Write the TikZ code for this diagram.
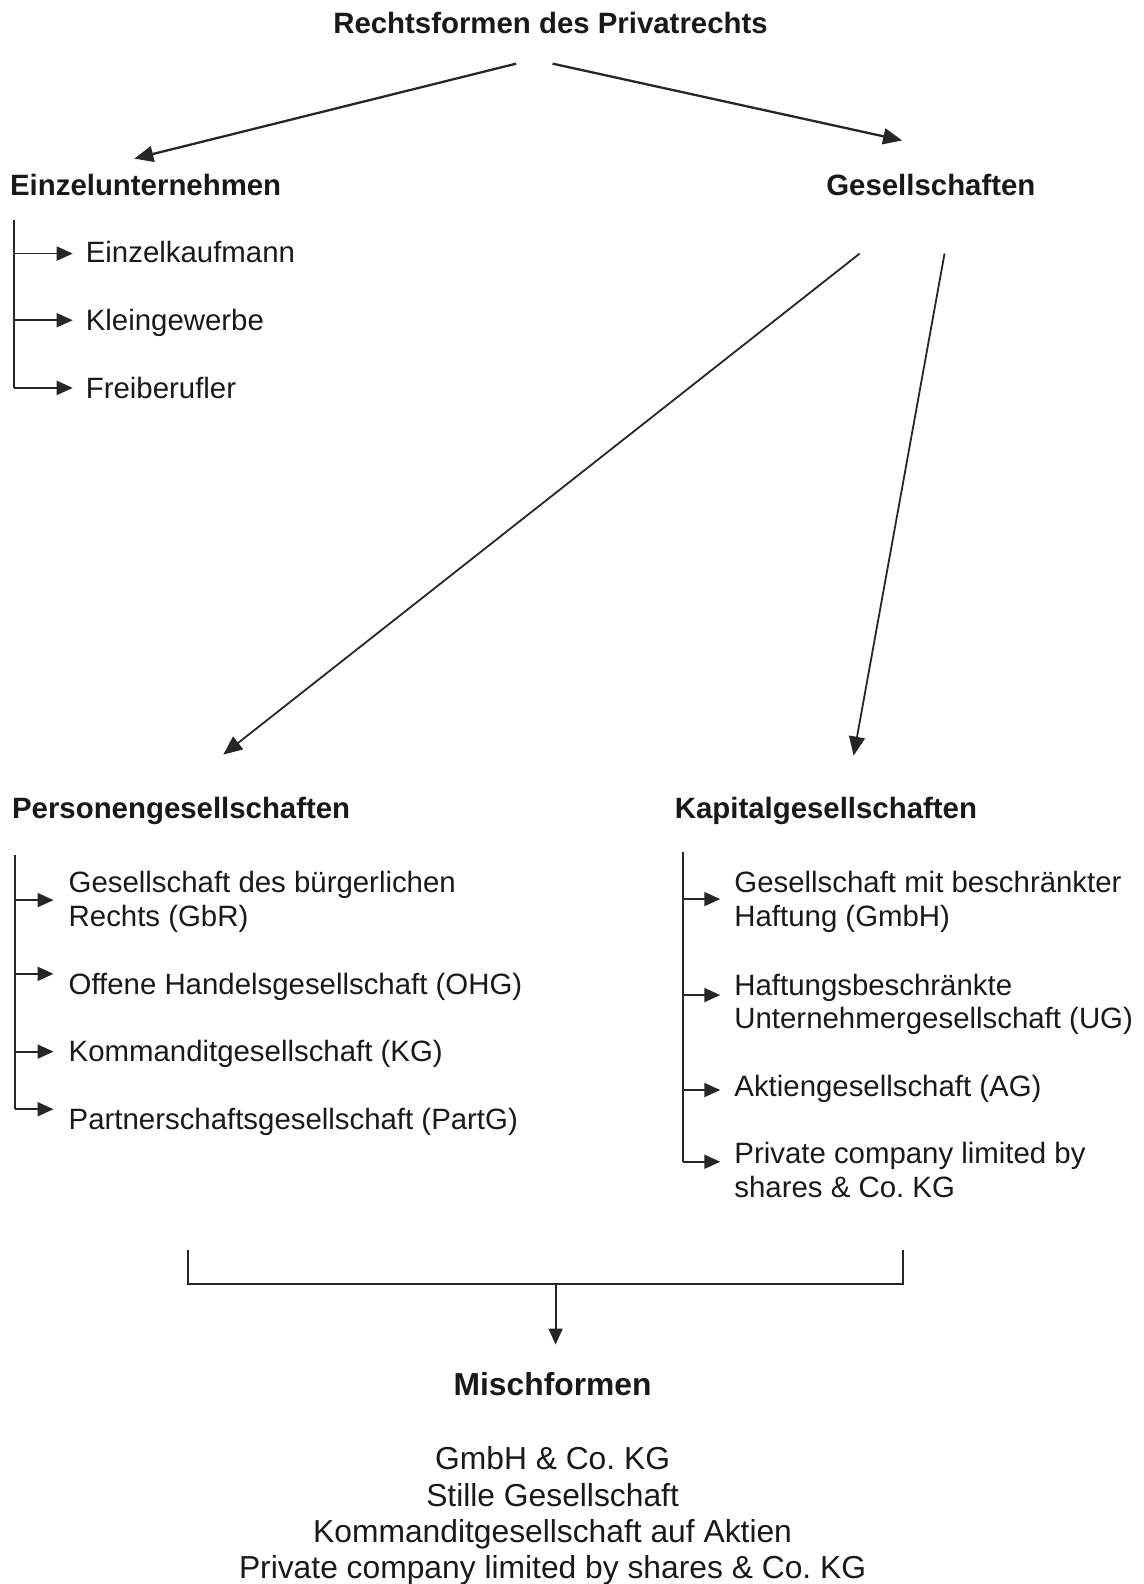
\documentclass[tikz,border=0pt]{standalone}
\usepackage{fontspec}
\setmainfont{Liberation Sans}
\usetikzlibrary{arrows.meta}
\begin{document}
\begin{tikzpicture}[x=1.0106pt,y=-1.0106pt,
  every node/.style={inner sep=0pt, outer sep=0pt, text=black!90},
  head/.style={font=\fontsize{29.4}{33.4}\selectfont\bfseries},
  item/.style={font=\fontsize{29.4}{33.4}\selectfont, align=left, anchor=base west},
  big/.style={draw=black!85, line width=2.3pt, -{Triangle[length=19pt,width=16pt]}},
  mid/.style={draw=black!85, line width=1.8pt, -{Triangle[length=19pt,width=16pt]}},
  br/.style={draw=black!85, line width=1.8pt},
  bra/.style={br, -{Triangle[length=16pt,width=14pt]}},
]
\useasboundingbox (0,0) rectangle (1132,1568);

% top level
\node[head, anchor=base] (root) at (545,33) {Rechtsformen des Privatrechts};
\node[head, anchor=base west] (ein) at (10,194) {Einzelunternehmen};
\node[head, anchor=base west] (ges) at (818,194) {Gesellschaften};
\coordinate (rL) at (511,63);
\coordinate (rR) at (547,63);
\coordinate (einT) at (133,157);
\coordinate (gesT) at (893,139);
\draw[big] (rL) -- (einT);
\draw[big] (rR) -- (gesT);

% Einzelunternehmen list
\node[item] (e1) at (85,260) {Einzelkaufmann};
\node[item] (e2) at (85,327) {Kleingewerbe};
\node[item] (e3) at (85,394) {Freiberufler};
\coordinate (ebar) at (14,218);
\coordinate (e1t) at (72,251);
\coordinate (e2t) at (72,317);
\coordinate (e3t) at (72,384);
\draw[br] (ebar) -- (ebar |- e3t);
\draw[bra] (ebar |- e1t) -- (e1t);
\draw[bra] (ebar |- e2t) -- (e2t);
\draw[bra] (ebar |- e3t) -- (e3t);

% Gesellschaften split
\node[head, anchor=base west] (pers) at (12,810) {Personengesellschaften};
\node[head, anchor=base west] (kap) at (668,810) {Kapitalgesellschaften};
\coordinate (gL) at (851,251);
\coordinate (gR) at (935,251);
\coordinate (persT) at (221,747);
\coordinate (kapT) at (845,748);
\draw[mid] (gL) -- (persT);
\draw[mid] (gR) -- (kapT);

% Personengesellschaften list
\node[item] (p1) at (68,917) {Gesellschaft des bürgerlichen\\Rechts (GbR)};
\node[item] (p2) at (68,984) {Offene Handelsgesellschaft (OHG)};
\node[item] (p3) at (68,1051) {Kommanditgesellschaft (KG)};
\node[item] (p4) at (68,1118) {Partnerschaftsgesellschaft (PartG)};
\coordinate (pbar) at (15,846);
\coordinate (p1t) at (53,891);
\coordinate (p2t) at (53,964);
\coordinate (p3t) at (53,1041);
\coordinate (p4t) at (53,1098);
\draw[br] (pbar) -- (pbar |- p4t);
\draw[bra] (pbar |- p1t) -- (p1t);
\draw[bra] (pbar |- p2t) -- (p2t);
\draw[bra] (pbar |- p3t) -- (p3t);
\draw[bra] (pbar |- p4t) -- (p4t);

% Kapitalgesellschaften list
\node[item] (k1) at (727,917) {Gesellschaft mit beschränkter\\Haftung (GmbH)};
\node[item] (k2) at (727,1018) {Haftungsbeschränkte\\Unternehmergesellschaft (UG)};
\node[item] (k3) at (727,1085) {Aktiengesellschaft (AG)};
\node[item] (k4) at (727,1185) {Private company limited by\\shares \& Co.\ KG};
\coordinate (kbar) at (676,843);
\coordinate (k1t) at (713,890);
\coordinate (k2t) at (713,985);
\coordinate (k3t) at (713,1079);
\coordinate (k4t) at (713,1150);
\draw[br] (kbar) -- (kbar |- k4t);
\draw[bra] (kbar |- k1t) -- (k1t);
\draw[bra] (kbar |- k2t) -- (k2t);
\draw[bra] (kbar |- k3t) -- (k3t);
\draw[bra] (kbar |- k4t) -- (k4t);

% bottom bracket
\coordinate (bL) at (186,1237);
\coordinate (bR) at (894,1237);
\coordinate (bM) at (550,1271);
\coordinate (mT) at (550,1331);
\draw[br] (bL) -- (bL |- bM) -- (bR |- bM) -- (bR);
\draw[bra] (bM) -- (mT);

\node[font=\fontsize{31.8}{36.4}\selectfont\bfseries, anchor=base] (misch) at (547,1381) {Mischformen};
\node[font=\fontsize{31.8}{36.4}\selectfont, align=center, anchor=base] (mlist) at (547,1563)
  {GmbH \& Co.\ KG\\Stille Gesellschaft\\Kommanditgesellschaft auf Aktien\\Private company limited by shares \& Co.\ KG};
\end{tikzpicture}
\end{document}
